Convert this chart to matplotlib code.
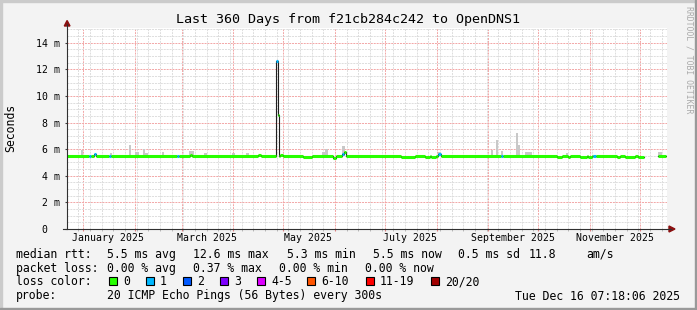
import numpy as np
import matplotlib
matplotlib.use('Agg')
import matplotlib.pyplot as plt
import matplotlib.dates as mdates
from matplotlib.ticker import MultipleLocator, FuncFormatter
from matplotlib.lines import Line2D
from matplotlib.patches import Polygon, Rectangle
from datetime import datetime

W, H = 697, 310

# median rtt, piecewise: start day (from left edge of graph), value in ms, lost pings
seg_day = [0.0, 13.2, 14.4, 16.2, 17.4, 25.2, 26.4, 66.0, 67.2, 73.8, 75.0,
           114.6, 116.4, 125.1, 126.3, 126.9, 127.8, 129.6, 141.6, 147.0,
           159.6, 161.4, 165.0, 166.2, 167.4, 200.4, 208.8, 214.8, 217.8,
           218.4, 221.4, 222.6, 224.4, 260.4, 261.6, 294.0, 297.0, 300.6,
           301.8, 307.8, 312.0, 312.6, 315.0, 315.6, 317.4, 330.0, 331.8,
           334.8, 340.8, 342.6, 346.2, 354.6]
seg_ms = [5.5, 5.5, 5.5, 5.6, 5.5, 5.5, 5.5, 5.5, 5.5, 5.58, 5.5,
          5.58, 5.5, 12.6, 8.6, 5.5, 5.58, 5.5, 5.43, 5.5,
          5.3, 5.5, 5.65, 5.8, 5.5, 5.43, 5.5, 5.43, 5.5,
          5.43, 5.5, 5.6, 5.5, 5.5, 5.5, 5.43, 5.5, 5.43,
          5.5, 5.43, 5.5, 5.43, 5.5, 5.5, 5.5, 5.43, 5.5,
          5.43, 5.5, 5.43, np.nan, 5.5]
seg_loss = [0, 1, 0, 1, 0, 1, 0, 1, 0, 0, 0,
            0, 0, 1, 0, 0, 0, 0, 0, 0,
            0, 0, 1, 0, 0, 0, 0, 0, 0,
            0, 0, 1, 0, 1, 0, 0, 0, 0,
            0, 0, 0, 0, 0, 1, 0, 0, 0,
            0, 0, 0, 0, 0]
last_day = 359.4

# smoke (spread of the pings above the median)
smoke_from = [8.4, 25.8, 37.2, 40.8, 45.6, 46.8, 57.0, 73.2, 82.2, 99.0, 107.4,
              153.0, 154.8, 165.0, 222.6, 254.4, 257.4, 260.4, 269.4, 270.6,
              274.8, 299.4, 354.6]
smoke_to = [9.6, 27.0, 38.4, 43.2, 46.8, 48.6, 58.2, 76.2, 84.0, 100.8, 109.2,
            154.8, 156.6, 166.8, 224.4, 255.6, 258.6, 261.6, 270.6, 271.8,
            279.0, 300.6, 357.0]
smoke_top = [5.95, 5.7, 6.3, 5.8, 6.0, 5.7, 5.8, 5.85, 5.7, 5.7, 5.7,
             5.8, 6.0, 6.2, 5.8, 5.95, 6.7, 5.85, 7.2, 6.3,
             5.8, 5.7, 5.8]

loss_labels = ['0', '1', '2', '3', '4-5', '6-10', '11-19', '20/20']
loss_colors = ['#26ff00', '#00b8ff', '#0059ff', '#7e00ff', '#dd00ff',
               '#ff5500', '#ff0000', '#a10000']
loss_box_x = [108.5, 145.7, 182.7, 219.7, 256.7, 307.3, 365.7, 431.0]

month_labels = ['January 2025', 'March 2025', 'May 2025', 'July 2025',
                'September 2025', 'November 2025']
label_months = [1, 3, 5, 7, 9, 11]

t0 = mdates.date2num(datetime(2024, 12, 22, 4, 54))

plt.rcParams['font.family'] = 'DejaVu Sans Mono'
fig = plt.figure(figsize=(W / 100, H / 100), dpi=100, facecolor='#f3f3f3')


def fx(x):
    return x / W


def fy(y):
    return 1 - y / H


ax = fig.add_axes([fx(67), fy(229), 600 / W, 201 / H])
ax.set_facecolor('white')
ax.set_xlim(t0, t0 + 360)
ax.set_ylim(0, 15.1)
for s in ax.spines.values():
    s.set_visible(False)

ax.xaxis.set_major_locator(mdates.MonthLocator())
ax.xaxis.set_minor_locator(mdates.WeekdayLocator(byweekday=mdates.SU))
ax.yaxis.set_major_locator(MultipleLocator(2))
ax.yaxis.set_minor_locator(MultipleLocator(0.5))
ax.grid(which='minor', color='#dddddd', lw=0.7, ls=(0, (2, 1)))
ax.grid(which='major', color='#f2a6a6', lw=0.7, ls=(0, (2, 1)))
ax.set_axisbelow(True)
ax.tick_params(axis='x', which='major', length=1.5, color='#e08080', labelbottom=False)
ax.tick_params(axis='x', which='minor', length=1.5, color='#b0b0b0')
ax.tick_params(axis='y', which='major', length=1.5, color='#404040', pad=3.6,
               labelsize=7.1)
ax.tick_params(axis='y', which='minor', length=0)
ax.yaxis.set_major_formatter(FuncFormatter(
    lambda v, p: '0\u00a0\u00a0' if v == 0 else '%d m' % v))

for m, lab in zip(label_months, month_labels):
    ax.text(mdates.date2num(datetime(2025, m, 16)), -0.043, lab,
            transform=ax.get_xaxis_transform(), ha='center', va='center',
            fontsize=7.1)

# smoke
s0 = t0 + np.array(smoke_from)
ax.bar(s0, np.array(smoke_top) - 5.5, width=t0 + np.array(smoke_to) - s0,
       bottom=5.5, align='edge', color='#c8c8c8', lw=0, zorder=2)

# median line + loss coloured band
xs = t0 + np.array(seg_day)
ms = np.array(seg_ms, dtype=float)
ends = np.append(xs[1:], t0 + last_day)
ax.step(np.append(xs, t0 + last_day), np.append(ms, ms[-1]), where='post',
        color='#202020', lw=0.8, zorder=3)
ax.hlines(ms, xs, ends, colors=[loss_colors[l] for l in seg_loss], lw=2.2,
          zorder=4, capstyle='butt')

# axes with arrows
fig.add_artist(Line2D([fx(67), fx(67)], [fy(229), fy(24)], color='#303030', lw=0.8))
fig.add_artist(Line2D([fx(63), fx(671)], [fy(229), fy(229)], color='#303030', lw=0.8))
fig.add_artist(Polygon([[fx(64.3), fy(26)], [fx(70), fy(26)], [fx(67.1), fy(20.5)]],
                       closed=True, color='#8b1010', transform=fig.transFigure))
fig.add_artist(Polygon([[fx(669), fy(226)], [fx(669), fy(232)], [fx(675), fy(229)]],
                       closed=True, color='#8b1010', transform=fig.transFigure))

# frame shading
fig.add_artist(Rectangle((0, 1 - 2 / H), 1, 2 / H, color='#cbcbcb', transform=fig.transFigure))
fig.add_artist(Rectangle((0, 0), 2 / W, 1, color='#cbcbcb', transform=fig.transFigure))
fig.add_artist(Rectangle((0, 0), 1, 2 / H, color='#999999', transform=fig.transFigure))
fig.add_artist(Rectangle((1 - 2 / W, 0), 2 / W, 1, color='#999999', transform=fig.transFigure))

fig.text(0.5, fy(19), 'Last 360 Days from f21cb284c242 to OpenDNS1',
         ha='center', va='center', fontsize=9.6)
fig.text(fx(11), fy(128), 'Seconds', rotation=90, ha='center', va='center',
         fontsize=8.3)
fig.text(fx(689), fy(60), 'RRDTOOL / TOBI OETIKER', rotation=270, ha='center',
         va='center', fontsize=5.9, color='#aaaaaa')

fs = 8.3
rows = [
    (254.3, [(16, 'median rtt:'), (107.3, '5.5 ms avg'), (193.3, '12.6 ms max'),
             (286.7, '5.3 ms min'), (372.7, '5.5 ms now'), (458.3, '0.5 ms sd'),
             (528.3, '11.8'), (586.7, 'am/s')]),
    (268.3, [(16, 'packet loss:'), (107.3, '0.00 % avg'), (193.3, '0.37 % max'),
             (279.3, '0.00 % min'), (365.0, '0.00 % now')]),
    (281.7, [(16, 'loss color:')]),
    (296.0, [(16, 'probe:'), (107.3, '20 ICMP Echo Pings (56 Bytes) every 300s')]),
]
for y, items in rows:
    for x, s in items:
        fig.text(fx(x), fy(y), s, ha='left', va='center', fontsize=fs)

for bx, lab, col in zip(loss_box_x, loss_labels, loss_colors):
    fig.add_artist(Rectangle((fx(bx), fy(285)), 8 / W, 8 / H, facecolor=col,
                             edgecolor='black', lw=0.8, transform=fig.transFigure))
    fig.text(fx(bx + 14.3), fy(281.7), lab, ha='left', va='center', fontsize=fs)

fig.text(fx(680), fy(296), 'Tue Dec 16 07:18:06 2025', ha='right', va='center',
         fontsize=fs)

fig.savefig('out.png', dpi=100, facecolor=fig.get_facecolor())
